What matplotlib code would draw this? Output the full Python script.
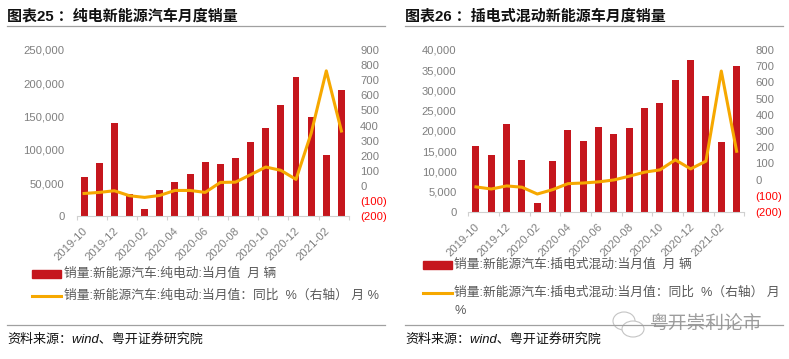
import matplotlib
matplotlib.use("Agg")
import matplotlib.pyplot as plt
from matplotlib.patches import Rectangle, Ellipse
from matplotlib.lines import Line2D

plt.rcParams['font.family'] = ['Liberation Sans', 'Noto Sans CJK SC', 'DejaVu Sans']

months = ["2019-10","2019-11","2019-12","2020-01","2020-02","2020-03","2020-04","2020-05","2020-06",
          "2020-07","2020-08","2020-09","2020-10","2020-11","2020-12","2021-01","2021-02","2021-03"]
tick_labels = months[::2]

ev_sales = [59000,80500,140500,33000,11000,39500,51500,63500,82000,79000,88000,112000,133000,168000,210000,150000,92000,190000]
ev_yoy = [-49,-42,-31,-64,-75,-62,-29,-29,-42,24,26,75,126,104,44,349,762,364]
phev_sales = [16300,14100,21800,12800,2200,12600,20300,17600,21000,19300,20800,25600,26800,32500,37500,28600,17300,36000]
phev_yoy = [-45,-58,-39,-47,-89,-62,-25,-21,-14,-2,21,46,60,122,66,114,670,175]

left_ticks = [0,50000,100000,150000,200000,250000]
left_ticks2 = list(range(0,45000,5000))
right_ticks = list(range(-200,1000,100))
right_ticks2 = list(range(-200,900,100))

titles = ["图表25 ：纯电新能源汽车月度销量","图表26 ：插电式混动新能源车月度销量"]
legend_bar = ["销量:新能源汽车:纯电动:当月值  月 辆","销量:新能源汽车:插电式混动:当月值  月 辆"]
legend_line = ["销量:新能源汽车:纯电动:当月值：同比  %（右轴） 月 %","销量:新能源汽车:插电式混动:当月值：同比  %（右轴） 月"]
source = "资料来源：wind、粤开证券研究院"

W, H = 789, 359
fig = plt.figure(figsize=(W/100, H/100), dpi=100, facecolor="white")
RED, ORANGE, GREY = "#C5161D", "#F6A800", "#7F7F7F"
TICK_FS = 8.1
LEG_FS = 9.2

def fmt(v):
    return f"{v:,}"
def fmt_r(v):
    return f"({-v})" if v < 0 else f"{v}"

def panel(x0, x1, y_top, y_bot, sales, yoy, lt, rt, lmax, rmin, rmax, bw):
    ax = fig.add_axes([x0/W, 1-y_bot/H, (x1-x0)/W, (y_bot-y_top)/H])
    n = len(sales)
    pos = list(range(n))
    ax.bar(pos, sales, width=bw, color=RED, zorder=2)
    ax.set_xlim(-0.5, n-0.5)
    ax.set_ylim(0, lmax)
    ax.set_yticks(lt)
    ax.set_yticklabels([fmt(v) for v in lt], fontsize=TICK_FS, color=GREY)
    ax.tick_params(axis='y', length=0, pad=8.5)
    ax.set_xticks([p-0.5 for p in pos[::2]]+[n-0.5])
    ax.set_xticklabels([])
    ax.tick_params(axis='x', length=2.6, width=0.8, color="#D0D0D0", direction='out')
    for s in ("top", "left", "right"):
        ax.spines[s].set_visible(False)
    ax.spines["bottom"].set_color("#D0D0D0")
    for p, lab in zip(pos[::2], tick_labels):
        ax.annotate(lab, (p, 0), xytext=(-1, -7), textcoords="offset points", rotation=45,
                    ha="right", va="top", rotation_mode="anchor", fontsize=TICK_FS, color=GREY)
    ax2 = ax.twinx()
    ax2.plot(pos, yoy, color=ORANGE, lw=2.2, solid_joinstyle="round", zorder=3)
    ax2.set_ylim(rmin, rmax)
    ax2.set_yticks(rt)
    ax2.set_yticklabels([fmt_r(v) for v in rt], fontsize=TICK_FS)
    for t, v in zip(ax2.get_yticklabels(), rt):
        t.set_color("#FF0000" if v < 0 else GREY)
    ax2.tick_params(axis='y', length=0, pad=8)
    for s in ax2.spines.values():
        s.set_visible(False)

panel(76.5, 349, 50, 216.3, ev_sales, ev_yoy, left_ticks, right_ticks, 250000, -200, 900, 0.46)
panel(468.3, 744.3, 50, 212, phev_sales, phev_yoy, left_ticks2, right_ticks2, 40000, -200, 800, 0.46)

def px(x, y):
    return x/W, 1-y/H
def rule(x0, x1, y, c="#A0A0A0", lw=0.9):
    fig.add_artist(Line2D([x0/W, x1/W], [1-y/H, 1-y/H], color=c, lw=lw))
def text(x, y, s, **k):
    fig.text(*px(x, y), s, va="center", ha=k.pop("ha", "left"), **k)

rule(7, 385, 26); rule(405, 783, 26)
rule(7, 385, 325); rule(405, 783, 325)

text(7, 16, titles[0], fontsize=10.8, fontweight="bold", color="#111111")
text(405, 16, titles[1], fontsize=10.8, fontweight="bold", color="#111111")

LC = "#595959"
# left legend
fig.add_artist(Rectangle((32/W, 1-278/H), 29/W, 8/H, color=RED, transform=fig.transFigure))
fig.add_artist(Line2D([32/W, 61/W], [1-296/H]*2, color=ORANGE, lw=2.2))
text(64.5, 274, legend_bar[0], fontsize=LEG_FS, color=LC)
text(64.5, 296, legend_line[0], fontsize=LEG_FS, color=LC)
# right legend
fig.add_artist(Rectangle((423/W, 1-269/H), 29/W, 8/H, color=RED, transform=fig.transFigure))
fig.add_artist(Line2D([423/W, 452/W], [1-293/H]*2, color=ORANGE, lw=2.2))
text(454.5, 265, legend_bar[1], fontsize=LEG_FS, color=LC)
text(454.5, 293, legend_line[1], fontsize=LEG_FS, color=LC)
text(454.5, 311, "%", fontsize=LEG_FS, color=LC)

text(7, 339, source, fontsize=9.4, style="italic", color="#111111")
text(405, 339, source, fontsize=9.4, style="italic", color="#111111")

# watermark
for cx, cy, w, h in [(624, 321, 22, 18), (633, 329, 22, 16)]:
    fig.add_artist(Ellipse((cx/W, 1-cy/H), w/W, h/H, fc="white", ec="#C4C4C4", lw=0.8,
                           transform=fig.transFigure))
text(650, 325, "粤开崇利论市", fontsize=13.5, color="#8C8C8C", alpha=0.85)

fig.savefig("out.png", dpi=100, facecolor="white")
